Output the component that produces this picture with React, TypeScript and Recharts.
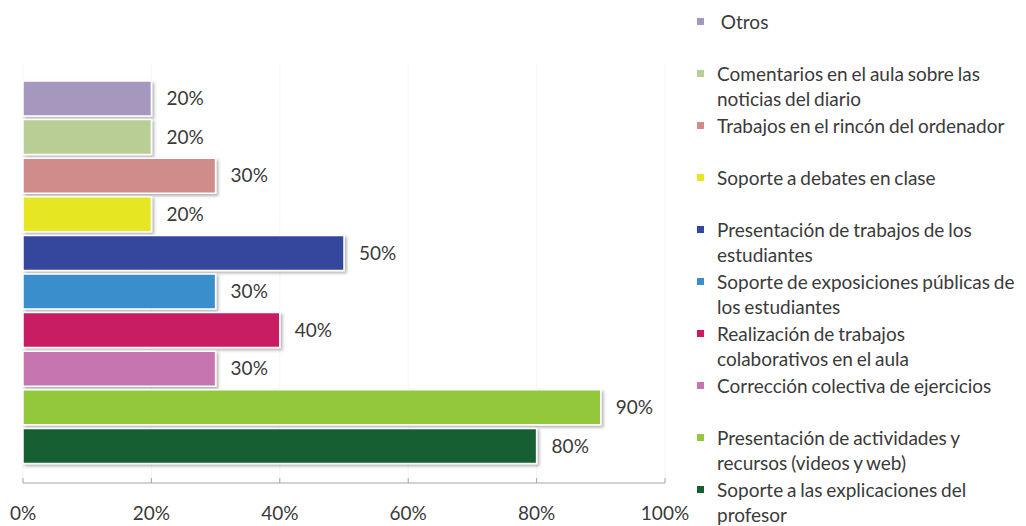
import {
  BarChart,
  Bar,
  XAxis,
  YAxis,
  CartesianGrid,
  LabelList,
} from "recharts";

// one bar per item, top to bottom
const seriesKeys = ["s0", "s1", "s2", "s3", "s4", "s5", "s6", "s7", "s8", "s9"];

const seriesNames = [
  "Otros",
  "Comentarios en el aula sobre las noticias del diario",
  "Trabajos en el rincón del ordenador",
  "Soporte a debates en clase",
  "Presentación de trabajos de los estudiantes",
  "Soporte de exposiciones públicas de los estudiantes",
  "Realización de trabajos colaborativos en el aula",
  "Corrección colectiva de ejercicios",
  "Presentación de actividades y recursos (videos y web)",
  "Soporte a las explicaciones del profesor",
];

// legend text as it wraps in the original
const legendLines = [
  [" Otros"],
  ["Comentarios en el aula sobre las", "noticias del diario"],
  ["Trabajos en el rincón del ordenador"],
  ["Soporte a debates en clase"],
  ["Presentación de trabajos de los", "estudiantes"],
  ["Soporte de exposiciones públicas de", "los estudiantes"],
  ["Realización de trabajos", "colaborativos en el aula"],
  ["Corrección colectiva de ejercicios"],
  ["Presentación de actividades y", "recursos (videos y web)"],
  ["Soporte a las explicaciones del", "profesor"],
];

const values = [20, 20, 30, 20, 50, 30, 40, 30, 90, 80];

const colors = [
  "#a597be",
  "#b9ce95",
  "#d08b8b",
  "#e6e621",
  "#35479d",
  "#3a8ecc",
  "#c81c63",
  "#c774b0",
  "#93c83e",
  "#175f32",
];

const xTicks = [0, 20, 40, 60, 80, 100];

const data = [
  {
    name: "",
    ...Object.fromEntries(seriesKeys.map((k, i) => [k, values[i]])),
  },
];

const FONT = "Lato, 'Noto Sans', sans-serif";
const TEXT = "#3a3a3a";

function LegendBox() {
  return (
    <div
      style={{
        position: "absolute",
        left: 689,
        top: 1,
        width: 330,
        fontFamily: FONT,
        fontSize: 19,
        color: TEXT,
      }}
    >
      {legendLines.map((lines, i) => (
        <div
          key={i}
          title={seriesNames[i]}
          style={{ height: 52, display: "flex", alignItems: "flex-start" }}
        >
          <div
            style={{
              width: 7,
              height: 7,
              background: colors[i],
              marginTop: 9,
              marginRight: 13,
              flexShrink: 0,
            }}
          />
          <div style={{ lineHeight: "25px", whiteSpace: "pre", wordSpacing: -1 }}>
            {lines.map((l, j) => (
              <div key={j}>{l}</div>
            ))}
          </div>
        </div>
      ))}
    </div>
  );
}

export default function App() {
  return (
    <div style={{ position: "relative", width: 1010, height: 518, fontFamily: FONT }}>
      <BarChart
        width={1010}
        height={518}
        data={data}
        layout="vertical"
        margin={{ top: 55, right: 353, left: 15, bottom: 8 }}
        barCategoryGap={18}
        barGap={3.6}
      >
        <defs>
          <filter id="barShadow" x="-5%" y="-20%" width="115%" height="160%">
            <feDropShadow
              dx="2"
              dy="2"
              stdDeviation="1.5"
              floodColor="#000"
              floodOpacity="0.3"
            />
          </filter>
        </defs>
        <CartesianGrid horizontal={false} stroke="#f5f5f5" />
        <XAxis
          type="number"
          domain={[0, 100]}
          ticks={xTicks}
          tickFormatter={(v) => `${v}%`}
          height={35}
          axisLine={{ stroke: "#a6a6a6" }}
          tickLine={{ stroke: "#a6a6a6" }}
          tickSize={-5}
          tickMargin={29}
          tick={{ fill: TEXT, fontSize: 19, fontFamily: FONT }}
        />
        <YAxis type="category" dataKey="name" hide />
        {seriesKeys.map((k, i) => (
          <Bar
            key={k}
            dataKey={k}
            name={seriesNames[i]}
            fill={colors[i]}
            stroke="#ffffff"
            strokeWidth={1.5}
            filter="url(#barShadow)"
            isAnimationActive={false}
          >
            <LabelList
              dataKey={k}
              position="right"
              offset={15}
              formatter={(v: number) => `${v}%`}
              fill={TEXT}
              fontSize={19}
              fontFamily={FONT}
            />
          </Bar>
        ))}
      </BarChart>
      <LegendBox />
    </div>
  );
}
